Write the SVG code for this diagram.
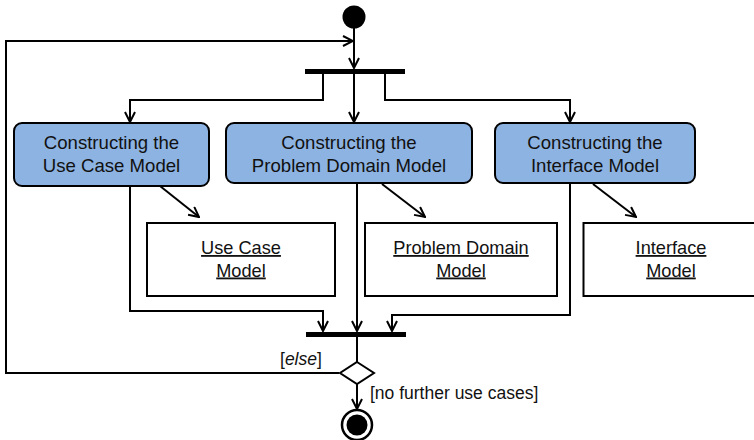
<svg xmlns="http://www.w3.org/2000/svg" width="754" height="440" viewBox="0 0 754 440">
  <style>
    .line { fill: none; stroke: #000; stroke-width: 2; }
    .act { fill: #8DB3E2; stroke: #000; stroke-width: 2; }
    .obj { fill: #fff; stroke: #000; stroke-width: 2; }
    .bar { fill: #000; }
    text { font-family: "Liberation Sans", Arial, sans-serif; font-size: 17.5px; fill: #111; }
    .act-t { font-size: 18.6px; }
    .obj-t { font-size: 18.2px; text-decoration: underline; }
    .c { text-anchor: middle; }
  </style>
  <defs>
    <marker id="arrow" markerUnits="userSpaceOnUse" viewBox="0 0 12 12" markerWidth="12" markerHeight="12" refX="11" refY="6" orient="auto">
      <path d="M1,1 L11,6 L1,11" fill="none" stroke="#000" stroke-width="2"/>
    </marker>
  </defs>

  <!-- control flow -->
  <g id="connectors">
    <!-- start to fork -->
    <path class="line" d="M354,28 V68" marker-end="url(#arrow)"/>
    <!-- loop back from decision -->
    <path class="line" d="M339,373 H6 V41 H353" marker-end="url(#arrow)"/>
    <!-- fork outputs -->
    <path class="line" d="M323,74 V100 H130 V122" marker-end="url(#arrow)"/>
    <path class="line" d="M354,74 V122" marker-end="url(#arrow)"/>
    <path class="line" d="M385,74 V100 H570 V122" marker-end="url(#arrow)"/>
    <!-- object flows -->
    <path class="line" d="M160,186 L199,217" marker-end="url(#arrow)"/>
    <path class="line" d="M382,184 L425,217" marker-end="url(#arrow)"/>
    <path class="line" d="M593,184 L636,217" marker-end="url(#arrow)"/>
    <!-- into join -->
    <path class="line" d="M130,186 V311 H323 V331" marker-end="url(#arrow)"/>
    <path class="line" d="M357,184 V331" marker-end="url(#arrow)"/>
    <path class="line" d="M570,184 V315 H392 V331" marker-end="url(#arrow)"/>
    <!-- join to decision -->
    <path class="line" d="M357,337 V362"/>
    <!-- decision to end -->
    <path class="line" d="M357,384 V409" marker-end="url(#arrow)"/>
    <text x="280" y="365">[<tspan font-style="italic">else</tspan>]</text>
    <text x="370" y="399">[no further use cases]</text>
  </g>

  <g id="start">
    <circle cx="354" cy="17" r="11.5" fill="#000"/>
  </g>

  <g id="fork">
    <rect class="bar" x="305" y="69" width="100" height="5"/>
  </g>

  <g id="act-use-case">
    <rect class="act" x="14" y="123" width="195" height="63" rx="8"/>
    <text class="c act-t" x="111.5" y="149">Constructing the</text>
    <text class="c act-t" x="111.5" y="171.5">Use Case Model</text>
  </g>

  <g id="act-problem-domain">
    <rect class="act" x="226" y="123" width="246" height="60" rx="8"/>
    <text class="c act-t" x="349" y="149">Constructing the</text>
    <text class="c act-t" x="349" y="171.5">Problem Domain Model</text>
  </g>

  <g id="act-interface">
    <rect class="act" x="495" y="123" width="200" height="60" rx="8"/>
    <text class="c act-t" x="595" y="149">Constructing the</text>
    <text class="c act-t" x="595" y="171.5">Interface Model</text>
  </g>

  <g id="obj-use-case">
    <rect class="obj" x="147" y="223" width="188" height="73"/>
    <text class="c obj-t" x="241" y="254">Use Case</text>
    <text class="c obj-t" x="241" y="276.5">Model</text>
  </g>

  <g id="obj-problem-domain">
    <rect class="obj" x="365" y="223" width="192" height="73"/>
    <text class="c obj-t" x="461" y="254">Problem Domain</text>
    <text class="c obj-t" x="461" y="276.5">Model</text>
  </g>

  <g id="obj-interface">
    <rect class="obj" x="583.5" y="223" width="176" height="73"/>
    <text class="c obj-t" x="671" y="254">Interface</text>
    <text class="c obj-t" x="671" y="276.5">Model</text>
  </g>

  <g id="join">
    <rect class="bar" x="306" y="332" width="100" height="5"/>
  </g>

  <g id="decision">
    <polygon class="obj" points="357,362 374,373 357,384 340,373"/>
  </g>

  <g id="end">
    <circle cx="357" cy="425" r="15" fill="#fff" stroke="#000" stroke-width="2.5"/>
    <circle cx="357" cy="425" r="10.5" fill="#000"/>
  </g>
</svg>
